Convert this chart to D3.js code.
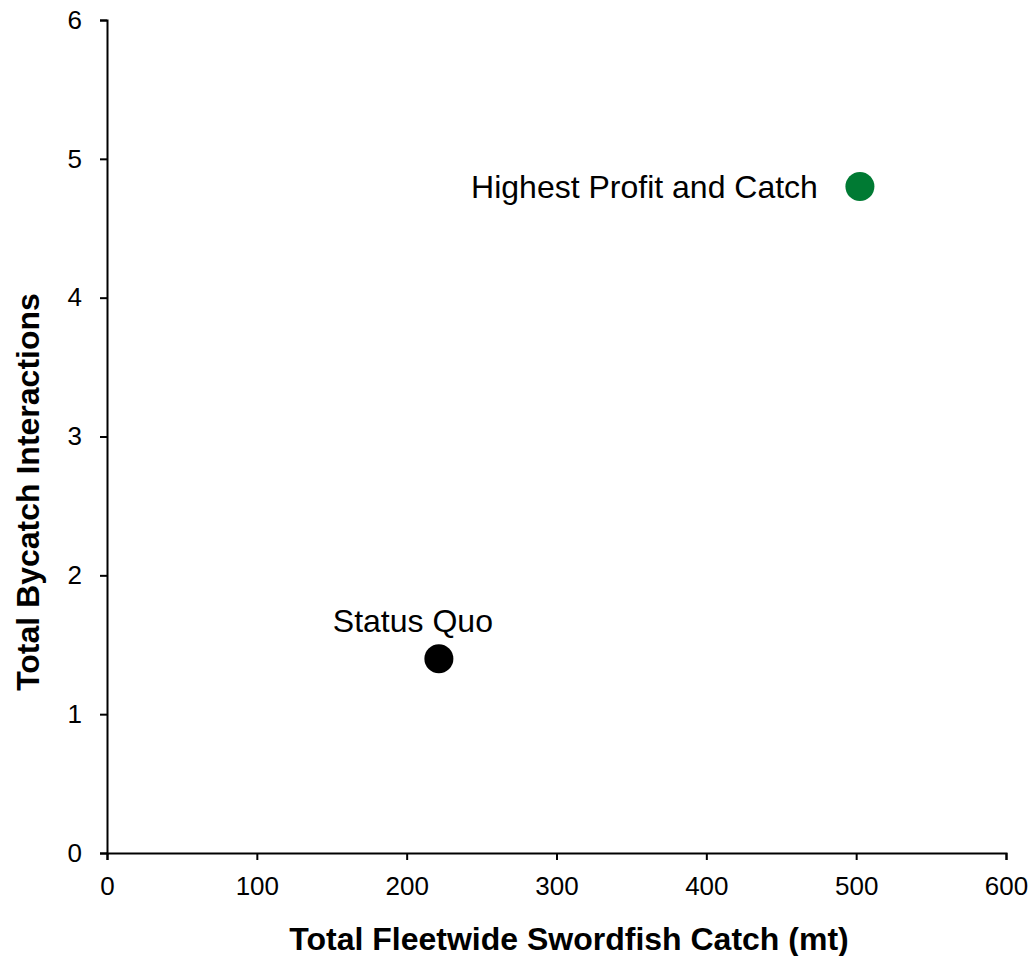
<!DOCTYPE html>
<html><head><meta charset="utf-8">
<script src="https://cdn.jsdelivr.net/npm/d3@7"></script>
<style>body{margin:0;background:#fff;} text{font-family:"Liberation Sans",Arial,sans-serif;}</style>
</head><body>
<svg id="c" width="1033" height="956"></svg>
<script>
const names = ["Highest Profit and Catch", "Status Quo"];
const catchMt = [502.5, 221.5];
const bycatch = [4.8, 1.4];
const colors = ["#007A33", "#000000"];
const xTicks = [0, 100, 200, 300, 400, 500, 600];
const yTicks = [0, 1, 2, 3, 4, 5, 6];

const svg = d3.select("#c");
const m = {l:107, r:1006, t:20, b:853};
const x = d3.scaleLinear().domain([0,600]).range([m.l, m.r]);
const y = d3.scaleLinear().domain([0,6]).range([m.b, m.t]);

const xa = svg.append("g").attr("transform",`translate(0,${m.b})`)
  .call(d3.axisBottom(x).tickValues(xTicks).tickFormat(d3.format("d")).tickSizeOuter(0).tickSize(7).tickPadding(17));
const ya = svg.append("g").attr("transform",`translate(${m.l},0)`)
  .call(d3.axisLeft(y).tickValues(yTicks).tickFormat(d3.format("d")).tickSizeOuter(0).tickSize(7).tickPadding(18));
[xa, ya].forEach(a => {
  a.attr("font-size",26).attr("font-family","Liberation Sans, Arial, sans-serif");
  a.selectAll("path, line").attr("stroke","#000").attr("stroke-width",2);
  a.selectAll("text").attr("fill","#000");
});

svg.append("text").attr("x",569).attr("y",950).attr("text-anchor","middle")
  .attr("font-size",32).attr("font-weight","bold").text("Total Fleetwide Swordfish Catch (mt)");
svg.append("text").attr("transform",`translate(39,492) rotate(-90)`).attr("text-anchor","middle")
  .attr("font-size",32).attr("font-weight","bold").text("Total Bycatch Interactions");

const idx = d3.range(names.length);
svg.selectAll("circle.pt").data(idx).join("circle").attr("class","pt")
  .attr("cx", i => x(catchMt[i])).attr("cy", i => y(bycatch[i])).attr("r",14.5)
  .attr("fill", i => colors[i]);

svg.append("text").attr("x", x(catchMt[0]) - 42).attr("y", y(bycatch[0])).attr("dy","0.35em")
  .attr("text-anchor","end").attr("font-size",32).text(names[0]);
svg.append("text").attr("x", x(catchMt[1]) - 26).attr("y", y(bycatch[1]) - 27)
  .attr("text-anchor","middle").attr("font-size",32).text(names[1]);
</script>
</body></html>
